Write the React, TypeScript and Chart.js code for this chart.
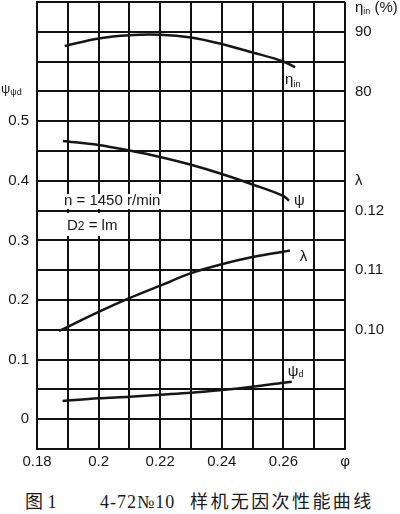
import React, { useEffect, useRef } from "react";
import { Chart, registerables } from "chart.js";

Chart.register(...registerables);

// ---- data ----
const phiEta = [0.189, 0.2, 0.21, 0.22, 0.23, 0.24, 0.25, 0.26, 0.2638];
const etaIn = [87.62, 88.88, 89.43, 89.5, 89.04, 87.95, 86.53, 85.02, 84.04];

const phiPsi = [0.1884, 0.2, 0.21, 0.22, 0.23, 0.24, 0.25, 0.26, 0.2618];
const psi = [0.4668, 0.4601, 0.4508, 0.4399, 0.4268, 0.4114, 0.3938, 0.3745, 0.3666];

const phiLam = [0.1871, 0.19, 0.2, 0.21, 0.22, 0.23, 0.24, 0.25, 0.26, 0.2621];
const lambda = [0.0998, 0.1005, 0.103, 0.1053, 0.1074, 0.1095, 0.111, 0.1122, 0.1131, 0.1133];

const phiPsiD = [0.1883, 0.2, 0.21, 0.22, 0.23, 0.24, 0.25, 0.26, 0.2627];
const psiD = [0.0305, 0.0351, 0.0377, 0.0411, 0.0445, 0.049, 0.0545, 0.0612, 0.0629];

// tick labels
const xLabelValues = [0.18, 0.2, 0.22, 0.24, 0.26];
const xAxisName = "φ";
const leftLabelValues = [0, 0.1, 0.2, 0.3, 0.4, 0.5];
const etaTickValues = [80, 90];
const lamTickValues = [0.1, 0.11, 0.12];
const lamTickText = ["0.10", "0.11", "0.12"];
const lamAxisValue = 0.125; // position of the "λ" axis name

// scale ranges and grid steps
const PHI_MIN = 0.18, PHI_MAX = 0.28, PHI_STEP = 0.01;
const PSI_MIN = -0.05, PSI_MAX = 0.7, PSI_STEP = 0.05;
const ETA_MIN = 20, ETA_MAX = 95;
const LAM_MIN = 0.08, LAM_MAX = 0.155;

const FONT = "'Liberation Sans', Arial, sans-serif";
const INK = "#161616";
const GRID = "#111111";
const GRID_W = 2;

const toPsi = (v: number, min: number, max: number) =>
  PSI_MIN + ((v - min) / (max - min)) * (PSI_MAX - PSI_MIN);

const rightLabels = new Map<number, string>();
etaTickValues.forEach((v) => rightLabels.set(Math.round(toPsi(v, ETA_MIN, ETA_MAX) * 100), String(v)));
lamTickValues.forEach((v, i) => rightLabels.set(Math.round(toPsi(v, LAM_MIN, LAM_MAX) * 100), lamTickText[i]));
rightLabels.set(Math.round(toPsi(lamAxisValue, LAM_MIN, LAM_MAX) * 100), "λ");

function drawParts(
  ctx: CanvasRenderingContext2D,
  x: number,
  y: number,
  parts: { t: string; size: number; dy: number }[]
) {
  let cx = x;
  for (const p of parts) {
    ctx.font = `${p.size}px ${FONT}`;
    ctx.fillText(p.t, cx, y + p.dy);
    cx += ctx.measureText(p.t).width;
  }
}

const textPlugin = {
  id: "paperText",
  beforeDatasetsDraw(chart: any) {
    const ctx: CanvasRenderingContext2D = chart.ctx;
    const a = chart.chartArea;
    ctx.save();
    ctx.fillStyle = "#ffffff";
    ctx.fillRect(a.left + 25, 194, 104, 15);
    ctx.fillRect(a.left + 25, 213, 59, 23);
    ctx.fillStyle = INK;
    ctx.textBaseline = "middle";
    ctx.textAlign = "left";
    drawParts(ctx, a.left + 27, 201, [{ t: "n = 1450 r/min", size: 15, dy: 0 }]);
    drawParts(ctx, a.left + 30, 226, [
      { t: "D", size: 15, dy: 0 },
      { t: "2", size: 12, dy: 1 },
      { t: " = lm", size: 15, dy: 0 },
    ]);
    ctx.restore();
  },
  afterDraw(chart: any) {
    const ctx: CanvasRenderingContext2D = chart.ctx;
    const a = chart.chartArea;
    const { x, y, yEta, yLam } = chart.scales;
    ctx.save();
    ctx.fillStyle = INK;
    ctx.textBaseline = "middle";
    ctx.textAlign = "left";
    // axis names
    drawParts(ctx, 1, y.getPixelForValue(0.55) - 2, [
      { t: "ψ", size: 13, dy: 0 },
      { t: "ψd", size: 9, dy: 3 },
    ]);
    drawParts(ctx, a.right + 10, a.top + 6, [
      { t: "η", size: 15, dy: 0 },
      { t: "in", size: 9, dy: 4 },
      { t: " (%)", size: 15, dy: 0 },
    ]);
    // curve labels
    const last = (arr: number[]) => arr[arr.length - 1];
    const ex = x.getPixelForValue(last(phiEta));
    const ey = yEta.getPixelForValue(last(etaIn));
    drawParts(ctx, ex - 10, ey + 13, [
      { t: "η", size: 15, dy: 0 },
      { t: "in", size: 9, dy: 4 },
    ]);
    const px = x.getPixelForValue(last(phiPsi));
    const py = y.getPixelForValue(last(psi));
    drawParts(ctx, px + 5, py, [{ t: "ψ", size: 15, dy: 0 }]);
    const lx = x.getPixelForValue(last(phiLam));
    const ly = yLam.getPixelForValue(last(lambda));
    drawParts(ctx, lx + 10, ly + 6, [{ t: "λ", size: 15, dy: 0 }]);
    const dx = x.getPixelForValue(last(phiPsiD));
    const dy = y.getPixelForValue(last(psiD));
    drawParts(ctx, dx - 4, dy - 10, [
      { t: "ψ", size: 15, dy: 0 },
      { t: "d", size: 9, dy: 3 },
    ]);
    ctx.restore();
  },
};

const pts = (xs: number[], ys: number[]) => xs.map((v, i) => ({ x: v, y: ys[i] }));

export default function App() {
  const ref = useRef<HTMLCanvasElement | null>(null);

  useEffect(() => {
    if (!ref.current) return;
    const lineStyle = {
      borderColor: INK,
      borderWidth: 2.5,
      pointRadius: 0,
      fill: false,
      tension: 0.35,
    };
    const tickFont = { family: FONT, size: 15 };
    const chart = new Chart(ref.current, {
      type: "line",
      data: {
        datasets: [
          { ...lineStyle, label: "ηin", data: pts(phiEta, etaIn), yAxisID: "yEta" },
          { ...lineStyle, label: "ψ", data: pts(phiPsi, psi), yAxisID: "y" },
          { ...lineStyle, label: "λ", data: pts(phiLam, lambda), yAxisID: "yLam" },
          { ...lineStyle, label: "ψd", data: pts(phiPsiD, psiD), yAxisID: "y" },
        ],
      },
      options: {
        animation: false,
        responsive: false,
        layout: { padding: { top: 2, left: 0, right: 0, bottom: 0 } },
        plugins: { legend: { display: false }, tooltip: { enabled: false }, title: { display: false } },
        scales: {
          x: {
            type: "linear",
            min: PHI_MIN,
            max: PHI_MAX,
            grid: { display: true, drawOnChartArea: true, color: GRID, lineWidth: GRID_W, drawTicks: false },
            border: { display: true, color: GRID, width: GRID_W },
            ticks: {
              stepSize: PHI_STEP,
              padding: 4,
              color: INK,
              font: tickFont,
              maxRotation: 0,
              autoSkip: false,
              callback: (v: any) => {
                const k = Math.round(Number(v) * 100);
                if (k === Math.round(PHI_MAX * 100)) return xAxisName;
                const hit = xLabelValues.find((t) => Math.round(t * 100) === k);
                return hit !== undefined ? String(hit) : " ";
              },
            },
            afterFit: (s: any) => {
              s.height = 31;
              s.paddingLeft = 0;
              s.paddingRight = 0;
            },
          },
          y: {
            type: "linear",
            position: "left",
            min: PSI_MIN,
            max: PSI_MAX,
            grid: { display: true, drawOnChartArea: true, color: GRID, lineWidth: GRID_W, drawTicks: false },
            border: { display: true, color: GRID, width: GRID_W },
            ticks: {
              stepSize: PSI_STEP,
              padding: 8,
              color: INK,
              font: tickFont,
              autoSkip: false,
              callback: (v: any) => {
                const k = Math.round(Number(v) * 100);
                const hit = leftLabelValues.find((t) => Math.round(t * 100) === k);
                return hit !== undefined ? String(hit) : " ";
              },
            },
            afterFit: (s: any) => {
              s.width = 37;
              s.paddingTop = 0;
              s.paddingBottom = 0;
            },
          },
          yR: {
            type: "linear",
            position: "right",
            min: PSI_MIN,
            max: PSI_MAX,
            grid: { display: false, drawTicks: false },
            border: { display: false },
            ticks: {
              stepSize: PSI_STEP,
              padding: 10,
              color: INK,
              font: tickFont,
              autoSkip: false,
              callback: (v: any) => rightLabels.get(Math.round(Number(v) * 100)) ?? " ",
            },
            afterFit: (s: any) => {
              s.width = 55;
              s.paddingTop = 0;
              s.paddingBottom = 0;
            },
          },
          yEta: { type: "linear", display: false, min: ETA_MIN, max: ETA_MAX },
          yLam: { type: "linear", display: false, min: LAM_MIN, max: LAM_MAX },
        },
      } as any,
      plugins: [textPlugin],
    });
    return () => chart.destroy();
  }, []);

  const captionBase: React.CSSProperties = {
    position: "absolute",
    top: 491,
    fontFamily: "'Liberation Serif', 'Noto Sans CJK SC', serif",
    fontSize: 18,
    lineHeight: "22px",
    color: "#1a1a1a",
    whiteSpace: "nowrap",
  };

  return (
    <div
      style={{
        position: "fixed",
        left: 0,
        top: 0,
        width: 400,
        height: 514,
        background: "#ffffff",
        overflow: "hidden",
      }}
    >
      <canvas ref={ref} width={400} height={480} style={{ display: "block", width: 400, height: 480 }} />
      <div style={{ ...captionBase, left: 25 }}>图 1</div>
      <div style={{ ...captionBase, left: 100, letterSpacing: "1px" }}>4-72№10</div>
      <div style={{ ...captionBase, left: 190, letterSpacing: "2.4px" }}>样机无因次性能曲线</div>
    </div>
  );
}
